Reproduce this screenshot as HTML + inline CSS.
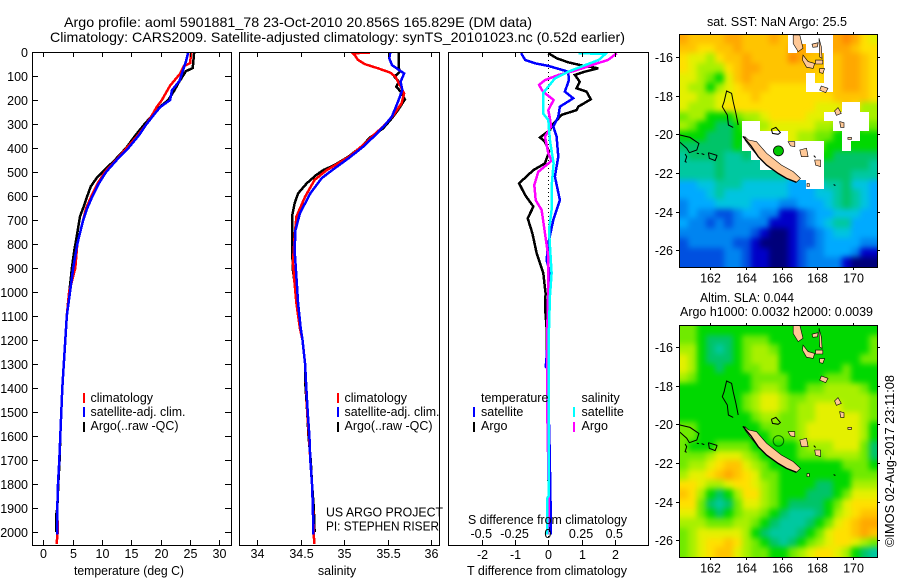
<!DOCTYPE html>
<html>
<head>
<meta charset="utf-8">
<title>Argo profile</title>
<style>
html,body{margin:0;padding:0;background:#fff}
svg{display:block}
text{font-family:"Liberation Sans",sans-serif;font-size:12.5px;fill:#000}
.title{font-size:14px}
</style>
</head>
<body>
<svg id="chart" xmlns="http://www.w3.org/2000/svg" width="900" height="580" viewBox="0 0 900 580">
<rect width="900" height="580" fill="#fff"/>
<text class="title" x="64" y="27" textLength="468" lengthAdjust="spacingAndGlyphs">Argo profile: aoml 5901881_78 23-Oct-2010 20.856S 165.829E (DM data)</text>
<text class="title" x="50" y="42" textLength="575" lengthAdjust="spacingAndGlyphs">Climatology: CARS2009. Satellite-adjusted climatology: synTS_20101023.nc (0.52d earlier)</text>

<defs>
<clipPath id="clip-p1"><rect x="32" y="52" width="200" height="493"/></clipPath>
<clipPath id="clip-p2"><rect x="239" y="52" width="201" height="493"/></clipPath>
<clipPath id="clip-p3"><rect x="448" y="52" width="201" height="493"/></clipPath>
<clipPath id="clip-m1"><rect x="679" y="34" width="199" height="233"/></clipPath>
<clipPath id="clip-m2"><rect x="679" y="325" width="199" height="232"/></clipPath>
<filter id="cell-smooth" filterUnits="userSpaceOnUse" x="620" y="0" width="280" height="580" color-interpolation-filters="sRGB"><feGaussianBlur stdDeviation="3"/></filter>
</defs>

<g id="panel1-series" clip-path="url(#clip-p1)"></g>
<g id="panel2-series" clip-path="url(#clip-p2)"></g>
<g id="panel3-series" clip-path="url(#clip-p3)"></g>
<g id="map1-cells" clip-path="url(#clip-m1)"></g>
<g id="map1-coast" clip-path="url(#clip-m1)"></g>
<g id="map2-cells" clip-path="url(#clip-m2)"></g>
<g id="map2-coast" clip-path="url(#clip-m2)"></g>
<g id="axes"></g>

<text x="129" y="575" text-anchor="middle" textLength="110" lengthAdjust="spacingAndGlyphs">temperature (deg C)</text>
<text x="337" y="575" text-anchor="middle">salinity</text>
<text x="467" y="575" textLength="160" lengthAdjust="spacingAndGlyphs">T difference from climatology</text>
<text x="468" y="524" textLength="159" lengthAdjust="spacingAndGlyphs">S difference from climatology</text>

<g>
<rect x="83" y="393" width="2" height="10" fill="#f00"/>
<rect x="83" y="407" width="2" height="10" fill="#00f"/>
<rect x="83" y="422" width="2" height="10" fill="#000"/>
<text x="90.5" y="402">climatology</text>
<text x="90.5" y="416" textLength="95" lengthAdjust="spacingAndGlyphs">satellite-adj. clim.</text>
<text x="90.5" y="430" textLength="88" lengthAdjust="spacingAndGlyphs">Argo(..raw -QC)</text>
</g>
<g>
<rect x="337" y="393" width="2" height="10" fill="#f00"/>
<rect x="337" y="407" width="2" height="10" fill="#00f"/>
<rect x="337" y="422" width="2" height="10" fill="#000"/>
<text x="344.5" y="402">climatology</text>
<text x="344.5" y="416" textLength="95" lengthAdjust="spacingAndGlyphs">satellite-adj. clim.</text>
<text x="344.5" y="430" textLength="88" lengthAdjust="spacingAndGlyphs">Argo(..raw -QC)</text>
<text x="326" y="516.5" textLength="117" lengthAdjust="spacingAndGlyphs">US ARGO PROJECT</text>
<text x="326" y="530.5" textLength="113" lengthAdjust="spacingAndGlyphs">PI: STEPHEN RISER</text>
</g>
<g>
<text x="481" y="402">temperature</text>
<text x="481" y="416">satellite</text>
<text x="481" y="430">Argo</text>
<rect x="473" y="407" width="2" height="10" fill="#00f"/>
<rect x="473" y="422" width="2" height="10" fill="#000"/>
<text x="581.5" y="402">salinity</text>
<text x="581.5" y="416">satellite</text>
<text x="581.5" y="430">Argo</text>
<rect x="573" y="407" width="2" height="10" fill="#0ff"/>
<rect x="573" y="422" width="2" height="10" fill="#f0f"/>
</g>

<text x="707" y="26" textLength="140" lengthAdjust="spacingAndGlyphs">sat. SST: NaN Argo: 25.5</text>
<text x="700" y="302" textLength="94" lengthAdjust="spacingAndGlyphs">Altim. SLA: 0.044</text>
<text x="680" y="316" textLength="193" lengthAdjust="spacingAndGlyphs">Argo h1000: 0.0032 h2000: 0.0039</text>
<text transform="translate(894 547) rotate(-90)" textLength="172" lengthAdjust="spacingAndGlyphs">©IMOS 02-Aug-2017 23:11:08</text>
</svg>

<script>
// ---- axis tick data ----
const depthTicks = [0,100,200,300,400,500,600,700,800,900,1000,1100,1200,1300,1400,1500,1600,1700,1800,1900,2000];
const tempTicks = [0,5,10,15,20,25,30];
const salinityTicks = [34,34.5,35,35.5,36];
const salinityTickLabels = ['34','34.5','35','35.5','36'];
const tDiffTicks = [-2,-1,0,1,2];
const sDiffTicks = [-0.5,-0.25,0,0.25,0.5];
const lonTicks = [162,164,166,168,170];
const latTicks = [-16,-18,-20,-22,-24,-26];

// ---- temperature profiles ----
const tempArgoDepth = [0,67,80,130,157,200,226,254,296,350,400,450,476,497,525,560,600,643,685,754,824,893,962,1025,1100,1200,1300,1400,1500,1600,1700,1800,1900,1930,2000];
const tempArgoValues = [25.7,25.45,24.3,23,22.4,21.3,20,19,17.4,15.6,14.1,12.2,11.1,10.2,9.1,8.1,7.5,6.9,6.25,5.8,5.3,4.9,4.6,4.3,4,3.75,3.5,3.24,3.07,2.9,2.78,2.55,2.38,2.2,2.2];
const tempClimDepth = [0,46,60,90,140,200,230,260,300,350,400,450,500,550,600,650,700,800,900,1000,1100,1200,1300,1400,1500,1600,1700,1800,1900,2000,2050];
const tempClimValues = [25.2,25,23.9,23.3,21.6,20.2,19.3,18.6,17.6,16,14.2,12.4,10.5,9.2,8.2,7.3,6.8,5.8,5.45,4.4,4,3.75,3.5,3.24,3.07,2.9,2.73,2.5,2.39,2.45,2.27];
const tempSatDepth = [0,40,80,120,160,200,230,260,300,350,400,450,500,550,600,650,700,800,900,1000,1100,1200,1300,1400,1500,1600,1700,1800,1900,2010];
const tempSatValues = [24.7,24.3,23.75,23.2,21.9,21.6,19.9,18.9,17.6,16.2,14.5,12.5,10.7,9.4,8.4,7.5,6.8,5.8,5.1,4.55,4,3.75,3.5,3.24,3.07,2.9,2.73,2.5,2.39,2.35];

// ---- salinity profiles ----
const salArgoDepth = [0,68,82,103,124,144,165,197,242,276,318,356,394,436,471,492,512,547,589,631,686,811,908,992,1089,1151,1200,1300,1367,1500,1600,1700,1800,1900,2000];
const salArgoValues = [35.63,35.63,35.64,35.58,35.63,35.6,35.65,35.7,35.62,35.55,35.45,35.3,35.2,35.05,34.89,34.76,34.68,34.57,34.47,34.43,34.4,34.4,34.41,34.44,34.47,34.5,34.52,34.55,34.55,34.575,34.59,34.615,34.63,34.65,34.66];
const salClimDepth = [3,5,12,33,51,68,86,103,137,172,214,262,311,346,387,433,464,492,533,603,686,769,880,964,1047,1151,1200,1300,1367,1500,1600,1700,1800,1900,2000,2050];
const salClimValues = [35.3,35.1,35.12,35.16,35.24,35.39,35.53,35.59,35.64,35.69,35.66,35.57,35.45,35.34,35.22,35.07,34.93,34.8,34.66,34.55,34.45,34.43,34.41,34.43,34.45,34.49,34.52,34.55,34.56,34.575,34.595,34.61,34.63,34.64,34.65,34.655];
const salSatDepth = [3,26,54,72,89,124,158,207,269,304,346,394,443,485,526,589,672,742,825,936,1047,1151,1200,1300,1367,1500,1600,1700,1800,1900,2010];
const salSatValues = [35.53,35.52,35.55,35.62,35.69,35.65,35.67,35.62,35.55,35.47,35.36,35.22,35.05,34.89,34.74,34.61,34.49,34.44,34.43,34.45,34.47,34.5,34.52,34.55,34.56,34.58,34.6,34.61,34.63,34.64,34.645];

// ---- difference profiles ----
const diffTArgoDepth = [5,26,43,54,68,82,96,124,151,165,197,228,242,262,304,325,356,374,415,464,492,547,596,644,693,756,839,922,1006,1061,1151,1400,2000];
const diffTArgoValues = [0,0.25,0.6,0.95,1.5,1.1,0.8,0.95,0.85,1.15,1.28,0.9,0.85,0.4,0.12,0.05,-0.25,-0.1,0.02,-0.1,-0.45,-0.88,-0.7,-0.45,-0.62,-0.48,-0.35,-0.15,-0.08,-0.1,-0.05,-0.02,0.02];
const diffTSatDepth = [5,33,47,58,82,117,165,193,228,269,311,353,436,519,617,700,797,867,936,1019,1151,1290,1310,1320,1650,1990,2010];
const diffTSatValues = [-0.82,-0.7,-0.4,0,0.6,0.62,0.5,0.75,0.35,0.3,0.15,0.25,0.3,0.2,0.35,0.15,0,-0.05,0.08,0.02,0,-0.06,-0.08,-0.02,0.04,0.08,0.08];
const diffSArgoDepth = [5,33,54,78,96,117,137,165,200,242,276,311,353,422,453,499,554,617,658,756,853,978,1151,1500,1900,2010];
const diffSArgoValues = [0.515,0.45,0.33,0.2,0.075,-0.025,-0.07,-0.04,0.04,0,0.012,0.02,-0.025,0,0.025,-0.075,-0.105,-0.095,-0.05,-0.025,0,0,-0.0075,-0.0075,0.005,-0.005];
const diffSSatDepth = [5,8,33,54,82,110,172,256,283,367,464,561,658,742,922,1019,1151,1400,1850,1860,2010];
const diffSSatValues = [0.226,0.43,0.38,0.28,0.15,0.05,-0.04,-0.04,0,0.012,0.04,0.025,0.025,0.005,0.025,0.012,0.005,0.003,0.003,-0.01,-0.01];

// ---- map data: colour level per cell, -1 = no data ----
const sstLevels = [
[14,13,13,13,13,14,14,13,13,13,14,13,-1,-1,-1,-1,-1,14,15,14,12,11],
[13,13,12,12,13,13,14,13,13,13,13,13,-1,14,-1,-1,-1,14,14,13,12,12],
[12,11,11,10,12,13,13,14,13,13,13,13,15,14,13,13,-1,13,14,14,13,12],
[12,11,10,10,10,12,13,14,14,13,13,13,13,13,13,13,-1,13,14,14,13,12],
[11,11,10,9,8,11,13,14,13,13,13,13,13,13,-1,12,-1,13,14,14,13,12],
[11,10,10,8,10,11,12,13,13,13,12,12,12,12,-1,-1,-1,13,14,14,13,12],
[11,11,10,10,11,11,12,12,13,12,12,12,12,12,12,12,12,13,13,13,13,12],
[11,10,10,10,11,12,12,12,12,12,12,12,12,12,12,11,11,11,-1,-1,10,10],
[9,10,10,8,8,8,9,10,10,11,12,12,12,12,11,11,-1,-1,-1,-1,-1,10],
[10,9,8,8,7,7,8,-1,-1,10,11,11,11,11,11,10,10,-1,-1,-1,-1,9],
[8,8,8,7,7,7,8,-1,-1,-1,-1,-1,11,10,10,9,9,8,-1,-1,8,8],
[7,7,7,7,7,7,8,-1,-1,-1,-1,-1,-1,-1,-1,-1,8,8,-1,8,8,8],
[6,7,7,7,7,6,6,7,-1,-1,-1,-1,-1,-1,-1,-1,8,7,7,7,7,7],
[6,6,6,6,7,6,6,6,6,-1,-1,-1,-1,-1,-1,-1,7,7,7,7,7,6],
[6,6,6,6,7,6,6,6,6,6,6,6,-1,-1,-1,-1,7,7,7,6,6,6],
[4,4,5,5,6,6,6,5,5,5,5,5,4,4,-1,-1,6,6,7,5,5,4],
[4,4,4,5,6,5,5,5,5,5,5,5,4,4,4,5,5,6,7,6,5,4],
[3,4,4,4,5,5,5,5,4,4,4,3,3,4,4,4,5,6,7,6,5,4],
[3,4,3,3,2,2,3,4,4,3,3,1,1,2,3,4,4,5,5,5,4,4],
[4,3,3,2,3,2,3,3,3,3,1,1,1,2,3,4,5,6,6,4,4,4],
[3,3,3,3,3,3,3,3,2,1,0,0,1,2,2,3,4,5,5,4,4,4],
[2,3,3,3,3,3,2,2,1,0,0,0,1,2,2,3,4,4,4,4,3,3],
[2,2,2,2,2,3,3,2,1,1,0,0,1,2,3,3,4,4,4,3,1,1],
[2,2,2,2,2,3,3,2,1,1,0,0,1,2,3,3,3,3,1,0,0,0]
];
const slaLevels = [
[9,9,8,8,8,8,8,8,8,8,8,8,8,8,8,8,8,8,8,8,8,8],
[9,9,8,7,7,7,8,9,9,9,8,8,8,8,8,8,8,8,8,8,8,9],
[10,10,8,7,6,7,8,9,10,10,9,8,8,8,8,8,8,8,8,8,8,9],
[11,10,8,7,7,7,8,9,10,10,10,8,8,8,8,8,8,8,8,8,9,9],
[11,10,8,8,7,8,8,9,9,10,10,8,8,8,8,8,8,8,9,8,8,8],
[10,9,8,8,8,8,8,8,9,9,9,9,8,8,8,8,9,9,9,8,8,8],
[8,8,8,8,8,8,8,8,9,10,10,9,8,8,9,9,10,10,10,10,9,8],
[8,8,8,8,8,8,8,9,10,11,11,10,9,9,10,10,10,10,10,10,10,9],
[8,8,8,8,8,8,8,9,10,11,11,10,9,10,10,11,11,11,10,10,10,9],
[8,8,8,8,8,8,8,8,9,10,10,9,9,10,10,11,11,11,11,11,10,9],
[9,9,8,8,8,8,8,8,8,9,9,9,9,10,11,11,11,11,11,11,10,8],
[9,9,8,8,8,8,8,8,8,8,9,9,9,10,11,11,11,11,11,11,10,8],
[9,8,8,8,9,9,9,9,8,8,8,8,8,9,10,10,10,11,11,11,9,7],
[9,9,9,10,11,11,11,10,9,8,8,8,8,9,9,9,10,10,10,10,9,7],
[9,10,10,11,12,13,13,11,10,9,8,8,8,8,8,8,8,8,9,9,9,8],
[10,11,11,12,13,14,13,12,11,9,9,8,8,8,8,8,8,8,8,9,9,9],
[12,12,11,10,10,11,12,12,11,10,9,8,8,8,8,7,7,8,8,10,10,10],
[13,12,10,8,7,8,10,12,12,10,9,8,8,8,7,7,7,8,9,11,11,11],
[12,12,9,7,6,7,9,11,11,10,9,8,7,7,7,7,8,9,11,12,12,12],
[11,11,9,8,7,8,9,10,10,9,8,7,6,6,6,7,8,10,11,12,13,13],
[10,10,10,9,9,9,10,10,9,8,7,6,6,6,7,8,9,11,12,13,14,14],
[9,10,11,11,11,11,11,10,8,7,6,6,6,7,8,9,11,12,12,13,14,13],
[9,10,11,12,12,13,12,10,9,8,7,6,7,8,9,10,11,12,12,11,10,9],
[9,10,11,12,13,13,11,10,9,9,8,8,9,10,11,12,12,11,10,8,7,6]
];

// land polygons (lon,lat pairs), salmon filled with black outline
const landIslands = [
[163.96,-20.12,164.15,-20.29,164.61,-20.38,165.17,-20.98,166,-21.59,166.65,-21.93,167.06,-22.28,166.83,-22.48,166.28,-22.28,165.81,-22.02,165.17,-21.59,164.7,-21.16,164.24,-20.64,163.96,-20.29],
[167.02,-20.81,167.39,-20.72,167.48,-21.16,167.11,-21.16],
[167.85,-21.33,168.17,-21.33,168.17,-21.67,167.9,-21.6],
[166.37,-20.38,166.74,-20.38,166.74,-20.64,166.5,-20.6],
[166.65,-14.86,167.02,-14.86,167.2,-15.55,166.93,-15.72,166.65,-15.3],
[167.2,-15.9,167.48,-16.24,167.85,-16.33,167.76,-16.59,167.39,-16.53,167.17,-16.16],
[168.22,-17.5,168.59,-17.62,168.46,-17.84,168.13,-17.71],
[167.7,-15.34,168.04,-15.26,168,-15.47,167.75,-15.5],
[168.09,-15.03,168.22,-15.47,168.26,-16.07,168.13,-16],
[167.9,-16.16,168.3,-16.16,168.3,-16.36,167.9,-16.36],
[168.13,-16.6,168.4,-16.6,168.3,-16.85,168.13,-16.8],
[169.15,-18.62,169.33,-18.91,169.06,-19.02,168.96,-18.79],
[169.24,-19.34,169.48,-19.4,169.48,-19.64,169.3,-19.64],
[169.7,-20.16,169.9,-20.16,169.9,-20.26,169.7,-20.26],
[167.42,-22.55,167.55,-22.55,167.55,-22.7,167.42,-22.7]
];
// reef outlines (lon,lat pairs), black line only
const reefOutlines = [
[163.59,-19.52,163.46,-18.91,163.31,-18.31,163.22,-17.88,162.94,-17.76,162.8,-18.31,162.7,-18.57,162.98,-19,163.04,-19.52,163.31,-19.64],
[160.31,-20.03,160.9,-20.16,161.4,-20.47,161.28,-20.81,160.87,-20.95,160.72,-20.72,160.31,-20.38],
[160.63,-21.02,160.72,-21.16,160.63,-21.41,160.72,-21.45],
[161.28,-20.98,161.4,-21],
[161.55,-21,161.7,-21.05],
[161.93,-20.95,162.4,-21.09,162.39,-21.16,162.3,-21.36,161.98,-21.24,161.93,-20.95],
[165.44,-19.74,165.69,-19.64,165.94,-19.91,165.81,-20,165.5,-19.95,165.44,-19.74],
[167.8,-21.1,167.9,-21.2],
[168.9,-22.6,169,-22.65]
];
const newCaledoniaSouthWestCoast = [163.85,-20.1,164.3,-20.6,164.7,-21.16,165.17,-21.59,165.81,-22.02,166.28,-22.28,166.83,-22.48];
const argoLon = 165.829;
const argoLat = -20.856;

// ---- colour ramp (style) ----
const levelColors = ['#00007a','#0000c8','#0050e0','#0084f0','#00aaff','#00c4e0','#00c8a0','#00c468','#00d800','#70ea00','#a8f000','#e4f000','#ffe000','#ffc400','#ffa800','#ff8a00'];

// ---- axis functions ----
const SVG_NS = 'http://www.w3.org/2000/svg';
function yDepth(d){ return 52 + 0.24*d; }
function xTemp(t){ return 43.3 + 5.87*t; }
function xSal(s){ return 257.3 + 86.85*(s-34); }
function xTDiff(t){ return 548.3 + 33.2*t; }
function xSDiff(s){ return 548.3 + 133*s; }
function xLon(lon){ return 709.7 + 17.95*(lon-162); }
function yLat1(lat){ return 57 + 19.33*(-16-lat); }
function yLat2(lat){ return 347 + 19.33*(-16-lat); }

function mk(tag, parent, attrs){
  const el = document.createElementNS(SVG_NS, tag);
  for (const k in attrs) el.setAttribute(k, attrs[k]);
  parent.appendChild(el);
  return el;
}

function drawSeries(parent, depths, values, xFn, color, width, name){
  const pts = depths.map((d,i)=>xFn(values[i]).toFixed(1)+','+yDepth(d).toFixed(1)).join(' ');
  const el = mk('polyline', parent, {points:pts, fill:'none', stroke:color, 'stroke-width':width, 'shape-rendering':'crispEdges', 'stroke-linejoin':'miter'});
  
  
}

const p1 = document.getElementById('panel1-series');
drawSeries(p1, tempArgoDepth, tempArgoValues, xTemp, '#000', 2.5, 'temperature-argo-line');
drawSeries(p1, tempClimDepth, tempClimValues, xTemp, '#f00', 2.5, 'temperature-climatology-line');
drawSeries(p1, tempSatDepth, tempSatValues, xTemp, '#00f', 2.5, 'temperature-satellite-line');

const p2 = document.getElementById('panel2-series');
drawSeries(p2, salArgoDepth, salArgoValues, xSal, '#000', 2.5, 'salinity-argo-line');
drawSeries(p2, salClimDepth, salClimValues, xSal, '#f00', 2.5, 'salinity-climatology-line');
drawSeries(p2, salSatDepth, salSatValues, xSal, '#00f', 2.5, 'salinity-satellite-line');

const p3 = document.getElementById('panel3-series');
const zeroLine = mk('line', p3, {x1:xTDiff(0), x2:xTDiff(0), y1:52, y2:545, stroke:'#000', 'stroke-width':1, 'stroke-dasharray':'1 3', 'shape-rendering':'crispEdges'});


drawSeries(p3, diffTArgoDepth, diffTArgoValues, xTDiff, '#000', 2.5, 'difference-t-argo-line');
drawSeries(p3, diffTSatDepth, diffTSatValues, xTDiff, '#00f', 2.5, 'difference-t-satellite-line');
drawSeries(p3, diffSArgoDepth, diffSArgoValues, xSDiff, '#f0f', 2.5, 'difference-s-argo-line');
drawSeries(p3, diffSSatDepth, diffSSatValues, xSDiff, '#0ff', 2.5, 'difference-s-satellite-line');

// level for a no-data cell in the smoothed layer: mean of its valid neighbours
function fillLevel(levels, r, c){
  let sum = 0, n = 0;
  for (let radius = 1; radius < 8 && n === 0; radius++){
    for (let i = r-radius; i <= r+radius; i++){
      for (let j = c-radius; j <= c+radius; j++){
        if (levels[i] && levels[i][j] !== undefined && levels[i][j] >= 0){ sum += levels[i][j]; n++; }
      }
    }
  }
  return n ? Math.round(sum/n) : 0;
}

function drawCells(parent, levels, x0, y0, w, h, name){
  const rows = levels.length, cols = levels[0].length;
  const cw = w/cols, ch = h/rows;
  const smooth = mk('g', parent, {filter:'url(#cell-smooth)'});
  const pad = 20;
  levels.forEach((row,r)=>row.forEach((v,c)=>{
    let x = Math.round(x0 + c*cw), y = Math.round(y0 + r*ch);
    let x2 = Math.round(x0+(c+1)*cw), y2 = Math.round(y0+(r+1)*ch);
    if (c === 0) x -= pad;
    if (r === 0) y -= pad;
    if (c === cols-1) x2 += pad;
    if (r === rows-1) y2 += pad;
    const level = v < 0 ? fillLevel(levels, r, c) : v;
    const cell = mk('rect', smooth, {x:x, y:y, width:x2-x, height:y2-y, fill:levelColors[level], 'shape-rendering':'crispEdges'});
    
    
  }));
  levels.forEach((row,r)=>row.forEach((v,c)=>{
    if (v >= 0) return;
    const x = Math.round(x0 + c*cw), y = Math.round(y0 + r*ch);
    const gap = mk('rect', parent, {x:x, y:y, width:Math.round(x0+(c+1)*cw)-x, height:Math.round(y0+(r+1)*ch)-y, fill:'#fff', 'shape-rendering':'crispEdges'});
    
    
  }));
}
drawCells(document.getElementById('map1-cells'), sstLevels, 679, 34, 199, 233, 'sst-cell');
drawCells(document.getElementById('map2-cells'), slaLevels, 679, 325, 199, 232, 'sla-cell');

function toPts(coords, yFn){
  const out = [];
  for (let i=0;i<coords.length;i+=2) out.push(xLon(coords[i]).toFixed(1)+','+yFn(coords[i+1]).toFixed(1));
  return out.join(' ');
}
function drawCoast(parent, yFn){
  reefOutlines.forEach(c=>{
    const reef = mk('polyline', parent, {points:toPts(c,yFn), fill:'none', stroke:'#000', 'stroke-width':1});
    
    
  });
  landIslands.forEach(c=>{
    const land = mk('polygon', parent, {points:toPts(c,yFn), fill:'#ffc896', stroke:'#000', 'stroke-width':0.6});
    
    
  });
  const sw = mk('polyline', parent, {points:toPts(newCaledoniaSouthWestCoast,yFn), fill:'none', stroke:'#000', 'stroke-width':1.4});
  
  
}
const m1c = document.getElementById('map1-coast');
const m2c = document.getElementById('map2-coast');
drawCoast(m1c, yLat1);
drawCoast(m2c, yLat2);

const marker1 = mk('circle', m1c, {cx:xLon(argoLon), cy:yLat1(argoLat), r:5, fill:'#00c800', stroke:'#000', 'stroke-width':0.8});


const marker2 = mk('circle', m2c, {cx:xLon(argoLon), cy:yLat2(argoLat), r:5.3, fill:'none', stroke:'#006400', 'stroke-width':1});



// ---- axes ----
const axes = document.getElementById('axes');
function frame(x, y, w, h, name){
  const r = mk('rect', axes, {x:x+0.5, y:y+0.5, width:w, height:h, fill:'none', stroke:'#000', 'stroke-width':1, 'shape-rendering':'crispEdges'});
  
  
}
function tick(x1, y1, x2, y2){
  const t = mk('line', axes, {x1:x1, y1:y1, x2:x2, y2:y2, stroke:'#000', 'stroke-width':1, 'shape-rendering':'crispEdges'});
  
  
}
function label(x, y, s, anchor){
  const t = mk('text', axes, {x:x, y:y, 'text-anchor':anchor});
  t.textContent = s;
  
  
}
frame(32, 52, 199, 493, 'temperature-panel-frame');
frame(239, 52, 200, 493, 'salinity-panel-frame');
frame(448, 52, 200, 493, 'difference-panel-frame');
frame(679, 34, 198, 233, 'sst-map-frame');
frame(679, 325, 198, 232, 'sla-map-frame');

depthTicks.forEach(d=>{
  const y = Math.round(yDepth(d))+0.5;
  if (d>0){
    tick(32,y,38,y);
    tick(225,y,231,y);
  }
  label(28, y+4.5, String(d), 'end');
});
tempTicks.forEach(t=>{
  const x = Math.round(xTemp(t))+0.5;
  tick(x,52,x,57);
  tick(x,540,x,545);
  label(x, 558, String(t), 'middle');
});
salinityTicks.forEach((s,i)=>{
  const x = Math.round(xSal(s))+0.5;
  tick(x,52,x,57);
  tick(x,540,x,545);
  label(x, 558, salinityTickLabels[i], 'middle');
});
tDiffTicks.forEach(t=>{
  const x = Math.round(xTDiff(t))+0.5;
  tick(x,52,x,57);
  tick(x,540,x,545);
  label(x, 559, String(t), 'middle');
});
sDiffTicks.forEach(s=>{
  const x = xSDiff(s);
  label(x-0.5, 538, String(s), 'middle');
});
function mapAxes(yFn, top, bottom){
  lonTicks.forEach(lon=>{
    const x = Math.round(xLon(lon))+0.5;
    tick(x,top-2,x,top+0.5);
    tick(x,bottom,x,bottom+3);
    label(x, bottom+15.5, String(lon), 'middle');
  });
  latTicks.forEach(lat=>{
    const y = Math.round(yFn(lat))+0.5;
    tick(676,y,679,y);
    tick(877,y,880,y);
    label(673, y+4.5, String(lat), 'end');
  });
}
mapAxes(yLat1, 34, 267);
mapAxes(yLat2, 325, 557);
</script>
</body>
</html>
